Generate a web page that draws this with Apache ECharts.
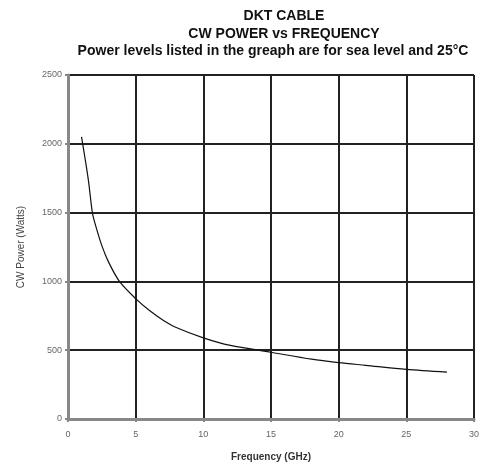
<!DOCTYPE html>
<html><head><meta charset="utf-8">
<script src="https://cdn.jsdelivr.net/npm/echarts@6/dist/echarts.min.js"></script>
<style>html,body{margin:0;padding:0;background:#fff}#c{width:489px;height:467px}</style>
</head><body><div id="c"></div>
<script>
var titleLines = ['DKT CABLE', 'CW POWER vs FREQUENCY', 'Power levels listed in the greaph are for sea level and 25°C'];
var xAxisName = 'Frequency (GHz)';
var yAxisName = 'CW Power (Watts)';
var frequency = [1, 1.5, 1.8, 2, 2.5, 3, 3.8, 5, 6, 7, 8, 10, 12, 15, 18, 20, 22, 25, 28];
var power = [2050, 1740, 1500, 1420, 1260, 1140, 1000, 875, 790, 720, 665, 590, 535, 485, 435, 410, 390, 360, 340];

var chart = echarts.init(document.getElementById('c'), null, {renderer: 'canvas'});
var tf = {fontFamily: 'Liberation Sans, Arial, sans-serif', fontWeight: 'bold', color: '#111', fontSize: 14};
chart.setOption({
  animation: false,
  title: [
    {text: titleLines[0], left: 279, top: 4, textAlign: 'center', textStyle: tf},
    {text: titleLines[1], left: 279, top: 22, textAlign: 'center', textStyle: tf},
    {text: titleLines[2], left: 268, top: 39, textAlign: 'center', textStyle: tf}
  ],
  grid: {left: 68, right: 15, top: 75, bottom: 45, containLabel: false},
  xAxis: {
    type: 'value', min: 0, max: 30, interval: 5,
    name: xAxisName, nameLocation: 'middle', nameGap: 33,
    nameTextStyle: {fontFamily: 'Liberation Sans, Arial, sans-serif', fontSize: 10, fontWeight: 'bold', color: '#333'},
    axisLine: {show: true, lineStyle: {color: '#888', width: 3}},
    axisTick: {show: true, length: 3, lineStyle: {color: '#888', width: 2}},
    axisLabel: {fontFamily: 'Liberation Sans, Arial, sans-serif', fontSize: 9, color: '#666', margin: 11},
    splitLine: {show: true, lineStyle: {color: '#222', width: 2}}
  },
  yAxis: {
    type: 'value', min: 0, max: 2500, interval: 500,
    name: yAxisName, nameLocation: 'middle', nameGap: 42, nameRotate: 90,
    nameTextStyle: {fontFamily: 'Liberation Sans, Arial, sans-serif', fontSize: 10, color: '#444'},
    axisLine: {show: true, lineStyle: {color: '#888', width: 3}},
    axisTick: {show: true, length: 3, lineStyle: {color: '#888', width: 2}},
    axisLabel: {fontFamily: 'Liberation Sans, Arial, sans-serif', fontSize: 9, color: '#666', margin: 6,
      formatter: function (v) { return String(v); }},
    splitLine: {show: true, lineStyle: {color: '#222', width: 2}}
  },
  series: [{
    type: 'line', smooth: 0.3, symbol: 'none',
    data: frequency.map(function (f, i) { return [f, power[i]]; }),
    lineStyle: {color: '#111', width: 1.2}
  }]
});
</script></body></html>
